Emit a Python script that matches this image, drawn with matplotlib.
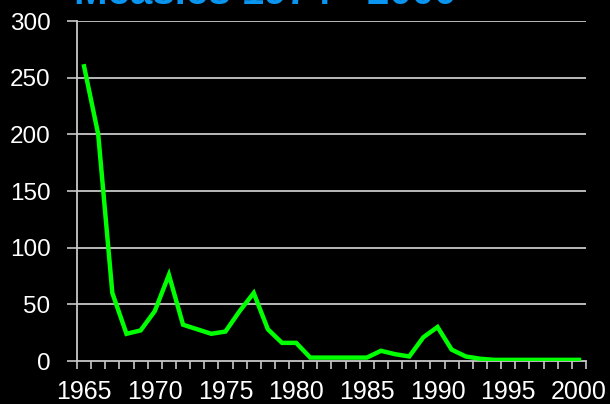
import numpy as np
from matplotlib import pyplot as plt

# measles cases per year
years = list(range(1965, 2001))
cases = [260, 200, 60, 24, 27, 44, 76, 32, 28, 24,
         26, 44, 60, 28, 16, 16, 3, 3, 3, 3,
         3, 9, 6, 4, 21, 30, 10, 4, 2, 1,
         1, 1, 1, 1, 1, 1]
label_years = [1965, 1970, 1975, 1980, 1985, 1990, 1995, 2000]
y_ticks = [0, 50, 100, 150, 200, 250, 300]

plt.rcParams['font.family'] = ['Liberation Sans', 'DejaVu Sans']

fig = plt.figure(figsize=(6.1, 4.04), dpi=100, facecolor="black")
ax = fig.add_axes([77/610, 1 - 361/404, 509/610, 340/404])
ax.set_facecolor("black")

grey = "#c8c8c8"
for y in y_ticks[1:]:
  ax.axhline(y, color=grey, lw=1.3, zorder=1)

ax.plot(years, cases, color="#00ff00", lw=3.2, solid_joinstyle="miter", zorder=3)

ax.set_xlim(1964.5, 2000.5)
ax.set_ylim(0, 300)
ax.set_yticks(y_ticks)
ax.set_xticks(label_years)
ax.set_xticks(np.arange(1964.5, 2001, 1), minor=True)

ax.tick_params(axis="y", colors=grey, length=7, width=1.2, pad=12, labelsize=17.5, labelcolor="white")
ax.tick_params(axis="x", which="major", length=0, pad=14, labelsize=18, labelcolor="white")
ax.tick_params(axis="x", which="minor", colors=grey, length=6, width=1.2)

for s in ["top", "right"]:
  ax.spines[s].set_visible(False)
for s in ["left", "bottom"]:
  ax.spines[s].set_color(grey)
  ax.spines[s].set_linewidth(1.3)

# title sits partly above the canvas edge
fig.text(74/610, 1 - 4/404, "Measles 1974 - 2000", color="#0a96f0", fontsize=29,
         fontweight="bold", ha="left", va="baseline")

fig.savefig("out.png", dpi=100, facecolor="black")
